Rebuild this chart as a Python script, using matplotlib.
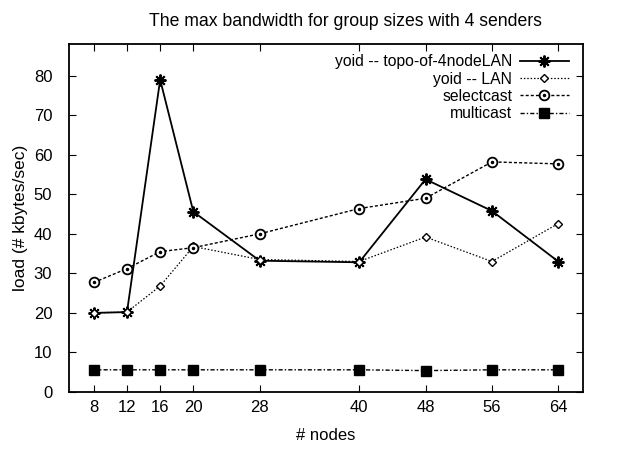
import matplotlib
matplotlib.use("Agg")
import matplotlib.pyplot as plt
from matplotlib.legend_handler import HandlerTuple

nodes = [8, 12, 16, 20, 28, 40, 48, 56, 64]
yoid_topo = [20.0, 20.2, 79.0, 45.6, 33.2, 32.8, 53.8, 45.8, 33.0]
yoid_lan = [20.0, 20.2, 26.8, 36.8, 33.5, 33.0, 39.2, 33.0, 42.6]
selectcast = [27.7, 31.2, 35.5, 36.5, 40.0, 46.4, 49.0, 58.2, 57.7]
multicast = [5.6, 5.6, 5.6, 5.6, 5.6, 5.6, 5.4, 5.6, 5.6]
y_ticks = [0, 10, 20, 30, 40, 50, 60, 70, 80]

plt.rcParams["font.family"] = ["Liberation Sans", "DejaVu Sans"]
FS = 12

fig = plt.figure(figsize=(6.21, 4.5), dpi=100)
ax = fig.add_axes([0.111, 0.129, 0.828, 0.773])

h1, = ax.plot(nodes, yoid_topo, color="black", lw=1.3, marker=(8, 2, 0), ms=8.5,
              markeredgewidth=1.4)
h2, = ax.plot(nodes, yoid_lan, color="black", lw=0.9, ls=(0, (1.2, 1.5)), marker="D", ms=4,
              mfc="white", markeredgewidth=1.0)
h3, = ax.plot(nodes, selectcast, color="black", lw=1.0, ls=(0, (2.2, 1.5)), marker="o", ms=7,
              mfc="white", markeredgewidth=1.3)
h3d, = ax.plot(nodes, selectcast, ls="none", color="black", marker="o", ms=1.5)
h4, = ax.plot(nodes, multicast, color="black", lw=1.0, ls=(0, (3, 1.5, 1, 1.5)), marker="s", ms=7)

ax.set_xlim(5, 67)
ax.set_ylim(0, 88)
ax.set_xticks(nodes)
ax.set_yticks(y_ticks)
ax.tick_params(direction="in", top=True, right=True, length=5, labelsize=FS)
ax.tick_params(axis="y", pad=12)
ax.tick_params(axis="x", pad=6)
for s in ax.spines.values():
    s.set_linewidth(1.3)

ax.set_xlabel("# nodes", fontsize=FS, labelpad=9)
ax.set_ylabel("load (# kbytes/sec)", fontsize=12.5, labelpad=4)
ax.set_title("The max bandwidth for group sizes with 4 senders", fontsize=12.7, pad=13, x=0.537)

ax.legend([h1, h2, (h3, h3d), h4],
          ["yoid -- topo-of-4nodeLAN", "yoid -- LAN", "selectcast", "multicast"],
          handler_map={tuple: HandlerTuple(ndivide=1)},
          loc="upper right", bbox_to_anchor=(0.972, 0.971), frameon=False,
          markerfirst=False, fontsize=11.3, handlelength=3.1, borderaxespad=0,
          borderpad=0, labelspacing=0.15, handletextpad=0.5)

fig.savefig("out.png", dpi=100)
